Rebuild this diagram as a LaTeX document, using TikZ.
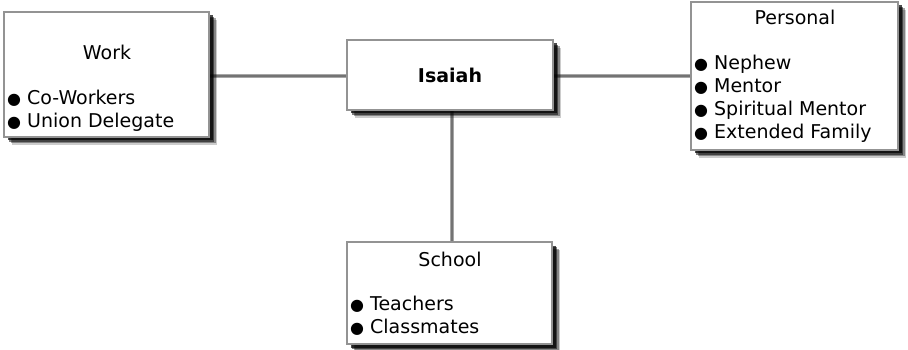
\documentclass[tikz,border=0pt]{standalone}
\usepackage{fontspec}
\setmainfont{DejaVu Sans}
\usetikzlibrary{positioning,shadows}

\newcommand{\dotitem}{{\fontsize{16}{23}\selectfont ●}\hspace{6pt}}

\begin{document}
\begin{tikzpicture}[x=1pt, y=-1pt,
  every node/.style = {inner sep=0pt, font=\fontsize{19}{23}\selectfont},
  box/.style = {draw=gray!85, line width=1.3pt, fill=white, rectangle,
    drop shadow={shadow xshift=8pt, shadow yshift=-8pt, fill=black, opacity=0.2},
    drop shadow={shadow xshift=6.5pt, shadow yshift=-6.5pt, fill=black, opacity=0.35},
    drop shadow={shadow xshift=5pt, shadow yshift=-5pt, fill=black, opacity=0.5},
    drop shadow={shadow xshift=3.5pt, shadow yshift=-3.5pt, fill=black, opacity=0.7}},
  items/.style = {align=left, anchor=west},
  link/.style = {draw=black!35, line width=4pt,
    postaction={draw=black!55, line width=1.4pt}}
]
\useasboundingbox (0,0) rectangle (908,350);
% links first, boxes on top
\coordinate (mid) at (452,75);
\draw[link] (207,76) -- (349,76);
\draw[link] (551,76) -- (693,76);
\draw[link] (mid) -- (452,244);
% boxes
\node[box, minimum width=205pt, minimum height=125pt] (work) at (106.5,74.5) {};
\node[box, minimum width=206pt, minimum height=70pt] (isaiah) at (450,75) {\bfseries Isaiah};
\node[box, minimum width=207pt, minimum height=148pt] (personal) at (794.5,76) {};
\node[box, minimum width=205pt, minimum height=102pt] (school) at (449.5,293) {};
% titles
\node (worktitle) at (107,52) {Work};
\node (personaltitle) at (795,17) {Personal};
\node (schooltitle) at (450,259) {School};
% lists
\node[items] (worklist) at (7,111) {\dotitem Co-Workers\\\dotitem Union Delegate};
\node[items] (personallist) at (694,99) {\dotitem Nephew\\\dotitem Mentor\\\dotitem Spiritual Mentor\\\dotitem Extended Family};
\node[items] (schoollist) at (350,316) {\dotitem Teachers\\\dotitem Classmates};
\end{tikzpicture}
\end{document}
